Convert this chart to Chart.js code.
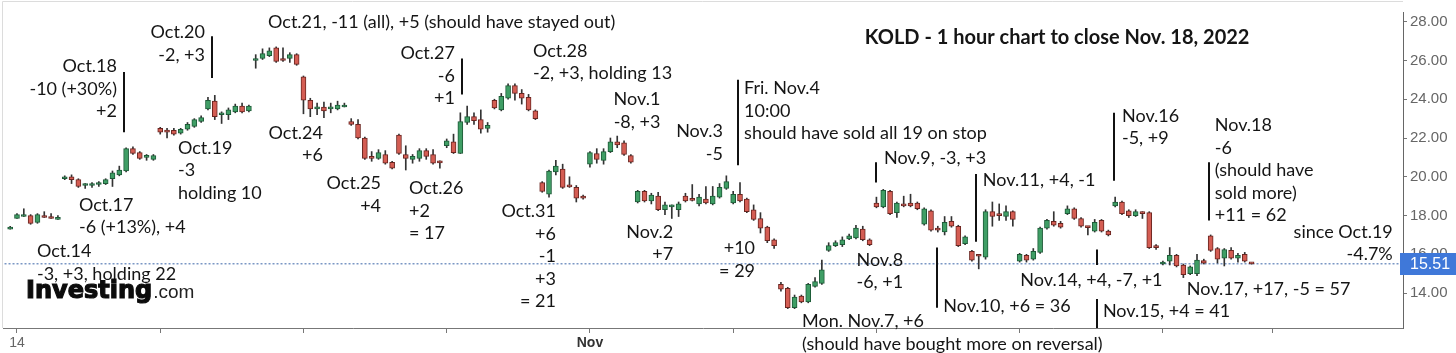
<!DOCTYPE html>
<html>
<head>
<meta charset="utf-8">
<title>KOLD - 1 hour chart</title>
<script src="https://cdn.jsdelivr.net/npm/chart.js@4.4.1/dist/chart.umd.min.js"></script>
<style>
  html, body { margin: 0; padding: 0; background: #fff; }
</style>
</head>
<body>
<canvas id="chart" width="1456" height="353"></canvas>
<script>
// hourly bars, index 0 = last bar of Oct 13, then 7 bars per session Oct 14 .. Nov 18
const open = [17.3,
  17.85,17.95,18.0,17.65,18.0,17.95,17.8,     // Oct 14
  19.9,20.0,19.85,19.55,19.55,19.6,19.65,     // Oct 17
  19.9,20.1,20.3,21.45,21.25,21.0,20.9,       // Oct 18
  22.5,22.35,22.4,22.25,22.45,22.6,22.85,     // Oct 19
  23.5,23.9,23.2,23.2,23.35,23.65,23.4,       // Oct 20
  26.0,26.1,26.25,26.65,26.05,26.1,26.3,      // Oct 21
  25.15,23.95,23.5,23.6,23.5,23.5,23.6,       // Oct 24
  22.85,22.7,22.0,21.05,20.95,21.15,20.75,    // Oct 25
  22.15,21.15,20.9,20.95,21.35,21.15,20.8,    // Oct 26
  21.6,21.8,21.2,22.8,23.1,22.95,22.5,        // Oct 27
  23.95,23.45,24.05,24.7,24.3,24.1,23.4,      // Oct 28
  19.7,19.1,20.25,20.4,19.5,19.45,18.95,      // Oct 31
  20.65,21.2,20.85,21.3,21.8,21.75,21.1,      // Nov 1
  18.7,19.25,18.75,19.0,18.3,18.45,18.3,      // Nov 2
  19.0,18.82,18.6,18.85,18.6,18.95,19.4,      // Nov 3
  18.65,19.1,18.85,18.3,17.85,17.4,16.75,     // Nov 4
  14.45,14.25,13.25,13.85,13.55,14.35,14.5,   // Nov 7
  16.2,16.45,16.5,16.8,16.85,17.3,16.75,      // Nov 8
  18.65,18.45,19.25,18.15,18.6,18.65,18.65,   // Nov 9
  17.55,18.25,17.35,17.15,17.7,17.45,16.55,   // Nov 10
  16.15,15.95,15.85,18.2,18.05,17.95,18.2,    // Nov 11
  15.65,15.95,15.75,16.1,17.35,17.7,17.6,     // Nov 14
  18.1,18.35,17.85,17.4,17.2,17.75,17.2,      // Nov 15
  18.5,18.7,18.25,18.0,18.15,18.15,16.4,      // Nov 16
  15.5,15.65,15.95,15.45,15.0,15.0,15.68,     // Nov 17
  16.95,16.3,15.8,16.2,15.8,16.0,15.55];      // Nov 18

const high = [17.45,
  18.1,18.35,18.05,18.1,18.2,18.1,18.0,
  20.05,20.1,19.9,19.65,19.7,19.75,19.9,
  20.3,20.55,21.5,21.55,21.3,21.15,21.15,
  22.55,22.5,22.5,22.5,22.8,23.0,23.15,
  24.1,24.2,23.35,23.55,23.75,23.8,23.7,
  26.3,26.6,26.65,26.7,26.65,26.4,26.35,
  25.2,24.05,23.8,23.85,23.8,23.9,23.8,
  23.0,22.95,22.05,21.3,21.4,21.35,20.8,
  22.2,21.6,21.15,21.45,21.45,21.4,20.82,
  21.95,22.2,23.3,23.65,23.3,23.45,22.8,
  24.0,24.3,24.8,24.8,24.5,24.25,23.45,
  19.75,20.35,20.85,20.65,20.0,19.55,19.05,
  21.3,21.45,21.45,22.0,22.1,21.85,21.15,
  19.3,19.3,19.15,19.2,18.7,18.55,18.7,
  19.15,19.6,19.1,19.5,19.5,19.65,20.05,
  19.25,19.7,18.9,18.55,18.15,17.45,16.8,
  14.55,14.3,13.9,13.9,14.5,14.8,15.7,
  16.6,16.7,16.9,17.05,17.5,17.45,16.8,
  18.95,19.35,19.3,18.7,19.0,19.1,18.7,
  18.4,18.3,17.45,17.95,17.95,17.5,16.95,
  16.2,16.0,18.3,18.7,18.6,18.5,18.25,
  16.05,16.0,16.3,17.4,17.8,18.2,17.7,
  18.5,18.4,17.9,17.45,17.8,17.8,17.25,
  18.95,18.75,18.3,18.3,18.2,18.2,16.5,
  15.65,16.35,16.0,15.5,15.4,16.0,15.75,
  17.0,16.35,16.3,16.35,16.05,16.1,15.57];

const low = [17.3,
  17.85,17.95,17.55,17.6,17.9,17.85,17.8,
  19.85,19.65,19.45,19.4,19.45,19.5,19.6,
  19.5,20.05,20.25,21.15,20.9,20.85,20.85,
  22.2,22.0,22.15,22.2,22.4,22.55,22.8,
  23.45,22.95,22.75,22.95,23.3,23.3,23.35,
  25.6,26.05,26.2,25.9,25.95,25.9,25.75,
  23.25,23.1,23.2,23.05,23.3,23.45,23.6,
  22.65,21.95,20.9,20.8,20.9,20.65,20.4,
  21.15,20.35,20.7,20.8,20.9,20.65,20.45,
  21.5,21.2,21.2,22.7,22.7,22.25,22.3,
  23.5,23.4,24.0,23.95,23.75,23.4,22.95,
  19.2,18.95,20.1,19.4,19.45,18.7,18.85,
  20.5,20.7,20.65,21.25,21.5,21.1,20.7,
  18.65,18.7,18.6,18.25,18.05,17.85,17.95,
  18.7,18.75,18.5,18.6,18.55,18.9,19.35,
  18.6,18.7,18.15,17.75,17.1,16.6,16.3,
  14.1,13.2,13.2,13.5,13.5,14.3,14.45,
  16.15,16.4,16.4,16.75,16.8,16.7,16.45,
  18.4,18.4,18.05,17.9,18.45,18.45,18.3,
  17.5,17.2,17.15,17.0,17.4,16.4,16.5,
  15.65,15.25,15.75,17.45,17.75,17.75,17.45,
  15.6,15.6,15.7,16.05,17.3,17.45,17.35,
  18.05,17.8,17.4,17.0,17.15,17.15,16.95,
  18.45,18.05,17.9,17.95,17.85,16.3,16.25,
  15.45,15.45,15.35,14.8,14.95,14.9,15.5,
  16.15,15.55,15.4,15.75,15.6,15.6,15.49];

const close = [17.4,
  18.05,18.05,17.6,18.05,17.9,17.85,17.9,
  19.95,19.85,19.5,19.6,19.6,19.65,19.85,
  20.2,20.35,21.45,21.2,20.95,21.02,21.1,
  22.3,22.3,22.2,22.45,22.7,22.95,23.05,
  23.95,23.1,23.25,23.45,23.65,23.35,23.65,
  26.1,26.35,26.5,25.95,26.0,26.3,25.8,
  23.95,23.5,23.6,23.4,23.6,23.7,23.7,
  22.7,22.0,20.95,20.95,21.25,20.7,20.45,
  21.2,20.95,21.05,21.35,21.05,20.7,20.72,
  21.85,21.25,22.85,23.1,22.9,22.45,22.65,
  23.55,24.15,24.7,24.3,24.05,23.45,23.0,
  19.25,20.3,20.55,19.45,19.48,18.9,18.9,
  21.25,20.9,21.3,21.8,21.65,21.15,20.75,
  19.25,18.75,19.05,18.3,18.55,18.5,18.6,
  18.75,18.78,18.95,18.65,19.0,19.45,19.75,
  19.1,18.75,18.2,17.8,17.35,16.7,16.45,
  14.2,13.25,13.8,13.55,14.45,14.6,15.2,
  16.45,16.6,16.75,16.95,17.35,16.75,16.5,
  18.45,19.3,18.1,18.65,18.5,18.5,18.35,
  18.35,17.25,17.25,17.65,17.45,16.45,16.9,
  15.7,15.9,18.2,17.95,18.0,18.2,17.8,
  16.0,15.7,16.15,17.35,17.75,17.5,17.4,
  18.35,17.85,17.45,17.38,17.65,17.2,17.0,
  18.7,18.1,18.0,18.2,18.1,16.35,16.35,
  15.55,15.95,15.4,14.95,15.35,15.7,15.55,
  16.2,15.75,16.25,15.8,15.95,15.65,15.51];

const lastPrice = 15.51;

// axis ticks (bar index / price)
const xTickAt = [1, 22, 43, 64, 85, 106, 127, 148, 169, 185];
const xTickText = ['14', '', '', '', 'Nov', '', '', '', '', ''];
const yTicks = [14, 16, 18, 20, 22, 24, 26, 28];

// hand-written notes, placed in data units (bar index, price)
const notes = [
  { x: 37.8, y: 27.95, lines: ['Oct.21, -11 (all), +5 (should have stayed out)'] },
  { x: 28.56, y: 27.45, align: 'right', lines: ['Oct.20', '-2, +3'] },
  { x: 15.66, y: 25.7, align: 'right', lines: ['Oct.18', '-10 (+30%)', '+2'] },
  { x: 24.6, y: 21.5, lines: ['Oct.19', '-3', 'holding 10'] },
  { x: 10.09, y: 18.55, lines: ['Oct.17', '-6 (+13%), +4'] },
  { x: 3.93, y: 16.15, lines: ['Oct.14', '-3, +3, holding 22'] },
  { x: 45.86, y: 22.25, align: 'right', lines: ['Oct.24', '+6'] },
  { x: 65.2, y: 26.35, align: 'right', lines: ['Oct.27', '-6', '+1'] },
  { x: 76.65, y: 26.5, lines: ['Oct.28', '-2, +3, holding 13'] },
  { x: 54.37, y: 19.65, align: 'right', lines: ['Oct.25', '+4'] },
  { x: 58.47, y: 19.4, lines: ['Oct.26', '+2', '= 17'] },
  { x: 80.02, y: 18.2, align: 'right', lines: ['Oct.31', '+6', '-1', '+3', '= 21'] },
  { x: 91.9, y: 24.0, align: 'center', lines: ['Nov.1', '-8, +3'] },
  { x: 104.5, y: 22.35, align: 'right', lines: ['Nov.3', '-5'] },
  { x: 107.6, y: 24.55, lines: ['Fri. Nov.4', '10:00', 'should have sold all 19 on stop'] },
  { x: 97.2, y: 17.15, align: 'right', lines: ['Nov.2', '+7'] },
  { x: 109.2, y: 16.3, align: 'right', lines: ['+10', '= 29'] },
  { x: 116.1, y: 12.55, lines: ['Mon. Nov.7, +6', '(should have bought more on reversal)'] },
  { x: 125.3, y: 27.2, bold: true, lines: ['KOLD - 1 hour chart to close Nov. 18, 2022'] },
  { x: 128.1, y: 20.95, lines: ['Nov.9, -3, +3'] },
  { x: 142.6, y: 19.85, lines: ['Nov.11, +4, -1'] },
  { x: 127.5, y: 15.7, align: 'center', lines: ['Nov.8', '-6, +1'] },
  { x: 136.8, y: 13.3, lines: ['Nov.10, +6 = 36'] },
  { x: 148.1, y: 14.65, lines: ['Nov.14, +4, -7, +1'] },
  { x: 160.2, y: 13.05, lines: ['Nov.15, +4 = 41'] },
  { x: 163.0, y: 23.15, lines: ['Nov.16', '-5, +9'] },
  { x: 176.6, y: 22.65, lines: ['Nov.18', '-6', '(should have', 'sold more)', '+11 = 62'] },
  { x: 202.7, y: 17.15, align: 'right', lines: ['since Oct.19', '-4.7%'] },
  { x: 172.5, y: 14.2, lines: ['Nov.17, +17, -5 = 57'] },
];

// black pointer lines (bar index, from price, to price)
const markers = [
  { x: 16.69, y1: 25.4, y2: 22.3 },
  { x: 29.59, y1: 27.25, y2: 25.1 },
  { x: 66.24, y1: 26.1, y2: 24.25 },
  { x: 106.7, y1: 25.0, y2: 20.6 },
  { x: 126.9, y1: 20.75, y2: 19.7 },
  { x: 141.6, y1: 20.15, y2: 16.65 },
  { x: 135.9, y1: 16.35, y2: 13.25 },
  { x: 159.3, y1: 16.25, y2: 15.45 },
  { x: 159.3, y1: 13.7, y2: 12.2 },
  { x: 161.8, y1: 23.3, y2: 19.8 },
  { x: 175.8, y1: 20.75, y2: 17.75 },
];

const up = open.map((o, i) => close[i] >= o);
const bodies = open.map((o, i) => ({ x: i, y: [o, close[i]] }));
const wicks = open.map((o, i) => ({ x: i, y: [low[i], high[i]] }));

const noteFont = 'Lato, "Open Sans", sans-serif';

const notesPlugin = {
  id: 'notes',
  afterDraw(chart) {
    const { ctx, chartArea, scales: { x, y } } = chart;
    ctx.save();

    // faint frame
    ctx.strokeStyle = '#dcdcdc';
    ctx.lineWidth = 1;
    ctx.beginPath();
    ctx.moveTo(2.5, chartArea.bottom);
    ctx.lineTo(2.5, 1.5);
    ctx.lineTo(chartArea.right, 1.5);
    ctx.stroke();

    ctx.strokeStyle = '#111';
    ctx.lineWidth = 2;
    markers.forEach(m => {
      const px = Math.round(x.getPixelForValue(m.x));
      ctx.beginPath();
      ctx.moveTo(px, y.getPixelForValue(m.y1));
      ctx.lineTo(px, y.getPixelForValue(m.y2));
      ctx.stroke();
    });

    ctx.fillStyle = '#151515';
    ctx.textBaseline = 'middle';
    notes.forEach(n => {
      ctx.font = n.bold ? 'bold 20px ' + noteFont : '18px ' + noteFont;
      ctx.textAlign = n.align || 'left';
      const px = x.getPixelForValue(n.x);
      const py = y.getPixelForValue(n.y);
      n.lines.forEach((t, k) => ctx.fillText(t, px, py + k * 22.5));
    });

    // Investing.com mark (stroked a little to get the heavy logo weight)
    ctx.textAlign = 'left';
    ctx.textBaseline = 'alphabetic';
    ctx.font = 'bold 24px "DejaVu Sans", sans-serif';
    ctx.fillStyle = '#0c0c0c';
    ctx.strokeStyle = '#0c0c0c';
    ctx.lineWidth = 1.2;
    const lx = chartArea.left + 23, ly = chartArea.bottom - 30;
    ctx.fillText('Investing', lx, ly);
    ctx.strokeText('Investing', lx, ly);
    const w = ctx.measureText('Investing').width;
    ctx.font = '19px "Liberation Sans", Arial, sans-serif';
    ctx.fillStyle = '#222';
    ctx.fillText('.com', lx + w + 1, ly);

    // last price tag on the price axis
    const py = Math.round(y.getPixelForValue(lastPrice));
    ctx.fillStyle = '#3f78d9';
    ctx.fillRect(y.left - 3, py - 11, chart.width - y.left + 3, 22);
    ctx.fillStyle = '#fff';
    ctx.font = '16px "Liberation Sans", Arial, sans-serif';
    ctx.textBaseline = 'middle';
    ctx.fillText(lastPrice.toFixed(2), y.left + 7, py + 1);

    ctx.restore();
  }
};

new Chart(document.getElementById('chart'), {
  type: 'bar',
  data: {
    datasets: [
      {
        data: bodies,
        backgroundColor: up.map(u => u ? '#3f9e65' : '#d45d53'),
        borderColor: up.map(u => u ? '#1d5a37' : '#6a2520'),
        borderWidth: 1,
        borderSkipped: false,
        barThickness: 5,
        minBarLength: 2,
        grouped: false,
        order: 0,
      },
      {
        data: wicks,
        backgroundColor: '#333',
        barThickness: 1,
        grouped: false,
        order: 1,
      },
      {
        type: 'line',
        data: [{ x: -2, y: lastPrice }, { x: 210, y: lastPrice }],
        borderColor: '#3a64a8',
        borderWidth: 1,
        borderDash: [2, 2],
        pointRadius: 0,
        order: 2,
      },
    ],
  },
  options: {
    responsive: false,
    devicePixelRatio: 1,
    animation: false,
    layout: { padding: { left: 3, top: 2, right: 0, bottom: 0 } },
    plugins: { legend: { display: false }, tooltip: { enabled: false } },
    scales: {
      x: {
        type: 'linear',
        min: -1.05,
        max: 204.2,
        offset: false,
        grid: { offset: false, drawOnChartArea: false, drawTicks: true, tickLength: 5, color: '#777' },
        border: { color: '#777' },
        afterBuildTicks: ax => { ax.ticks = xTickAt.map(v => ({ value: v })); },
        afterFit: ax => { ax.height = 25; },
        ticks: {
          autoSkip: false,
          maxRotation: 0,
          padding: 2,
          color: ctx => (ctx.tick && ctx.tick.value === 85 ? '#333' : '#666'),
          font: ctx => ({
            family: '"Liberation Sans", Arial, sans-serif',
            size: 14,
            weight: ctx.tick && ctx.tick.value === 85 ? 'bold' : 'normal',
          }),
          callback: v => xTickText[xTickAt.indexOf(v)] || '',
        },
      },
      y: {
        position: 'right',
        min: 12.2,
        max: 28.5,
        grid: { drawOnChartArea: false, tickLength: 4, color: '#777' },
        border: { color: '#666' },
        afterBuildTicks: ax => { ax.ticks = yTicks.map(v => ({ value: v })); },
        afterFit: ax => { ax.width = 53; },
        ticks: {
          padding: 3,
          color: '#666',
          font: { family: '"Liberation Sans", Arial, sans-serif', size: 15 },
          callback: v => Number(v).toFixed(2),
        },
      },
    },
  },
  plugins: [notesPlugin],
});
</script>
</body>
</html>
